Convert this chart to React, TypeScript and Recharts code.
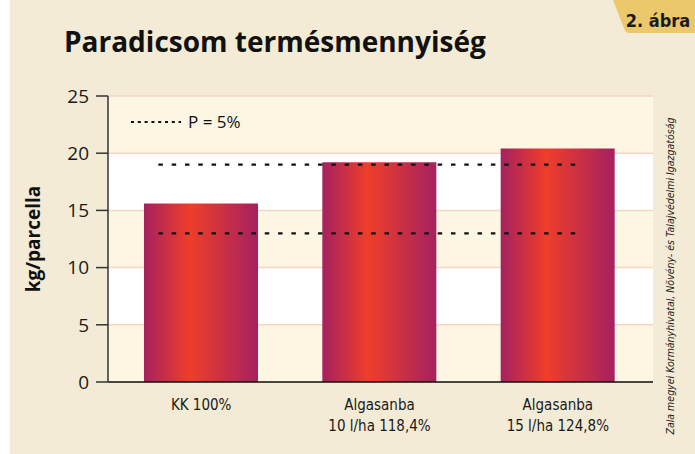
import React from 'react';
import { ComposedChart, Bar, XAxis, YAxis, CartesianGrid, ReferenceLine, Customized } from 'recharts';

const categories = ['KK 100%', 'Algasanba\n10 l/ha 118,4%', 'Algasanba\n15 l/ha 124,8%'];
const yields = [15.6, 19.2, 20.4];
const yTicks = [0, 5, 10, 15, 20, 25];
const significanceLevels = [19, 13];
const significanceSpan = [0.26, 2.61];
const legendLabel = 'P = 5%';
const titleText = 'Paradicsom termésmennyiség';
const figureTag = '2. ábra';
const yLabel = 'kg/parcella';
const creditText = 'Zala megyei Kormányhivatal, Növény- és Talajvédelmi Igazgatóság';

const data = categories.map((c, i) => ({ name: c, value: yields[i], pos: i + 0.5 }));

const CONDENSED = "'Liberation Sans Narrow', 'DejaVu Sans Condensed', 'Roboto', sans-serif";
const SANS = "'Open Sans', 'Noto Sans', sans-serif";

const XTick = (props: any) => {
  const { x, y, payload } = props;
  const lines = String(payload.value).split('\n');
  return (
    <text x={x} y={y} textAnchor="middle" fontFamily={CONDENSED} fontSize={15} fill="#1a1a1a">
      {lines.map((l, i) => (
        <tspan key={i} x={x} dy={i === 0 ? 20 : 21}>{l}</tspan>
      ))}
    </text>
  );
};

const Decorations = () => (
  <g>
    <polygon points="613,0 695,0 695,33 628,33 625,31" fill="#ebc86c" />
    <text x={658} y={27} textAnchor="middle" fontFamily={CONDENSED} fontWeight="bold" fontSize={18} fill="#1a1a1a">{figureTag}</text>
    <text x={64} y={52} fontFamily={SANS} fontWeight="bold" fontSize={28} fill="#111">{titleText}</text>
    <text transform="translate(40,239) rotate(-90)" textAnchor="middle" fontFamily={SANS} fontWeight="bold" fontSize={19} fill="#111">{yLabel}</text>
    <text transform="translate(674,276) rotate(-90)" textAnchor="middle" fontFamily={CONDENSED} fontStyle="italic" fontSize={10.5} fill="#222">{creditText}</text>
    <line x1={131} y1={122} x2={181} y2={122} stroke="#111" strokeWidth={2.2} strokeDasharray="3 3.8" />
    <text x={188} y={128} fontFamily={SANS} fontSize={17} fill="#111">{legendLabel}</text>
  </g>
);

export default function App() {
  return (
    <div style={{ position: 'absolute', left: 0, top: 0, width: 695, height: 454, background: '#ffffff' }}>
      <div style={{ position: 'absolute', left: 10, top: 0, width: 685, height: 454, background: '#f3ebd5' }} />
      <div style={{ position: 'absolute', left: 0, top: 0 }}>
        <ComposedChart width={695} height={454} data={data} margin={{ top: 96, right: 42, bottom: 0, left: 0 }}>
          <defs>
            <linearGradient id="barGrad" x1="0" y1="0" x2="1" y2="0">
              <stop offset="0" stopColor="#a5215f" />
              <stop offset="0.4" stopColor="#ef3e29" />
              <stop offset="1" stopColor="#a5215f" />
            </linearGradient>
          </defs>
          <CartesianGrid vertical={false} xAxisId="cat" stroke="#f5d6c2" strokeWidth={1.5} horizontalFill={['#fcf6e2', '#ffffff']} fillOpacity={1} />
          <XAxis dataKey="name" xAxisId="cat" tickLine={false} tick={<XTick />} interval={0} height={72}
            axisLine={{ stroke: '#111', strokeWidth: 1.5 }} padding={{ left: 4, right: 6 }} />
          <XAxis xAxisId="num" dataKey="pos" type="number" domain={[0, 3]} allowDataOverflow hide padding={{ left: 4, right: 6 }} />
          <YAxis domain={[0, 25]} ticks={yTicks} width={108} tickSize={12} tickMargin={7}
            axisLine={{ stroke: '#333', strokeWidth: 1.5 }} tickLine={{ stroke: '#333', strokeWidth: 1.5 }}
            tick={{ fontFamily: SANS, fontSize: 19, fill: '#1a1a1a' }} />
          <Bar dataKey="value" xAxisId="cat" fill="url(#barGrad)" barSize={114} isAnimationActive={false} />
          {significanceLevels.map((lvl) => (
            <ReferenceLine key={lvl} xAxisId="num" ifOverflow="visible"
              segment={[{ x: significanceSpan[0], y: lvl }, { x: significanceSpan[1], y: lvl }]}
              stroke="#111" strokeWidth={2.2} strokeDasharray="4.5 8.8" />
          ))}
          <Customized component={Decorations} />
        </ComposedChart>
      </div>
    </div>
  );
}
